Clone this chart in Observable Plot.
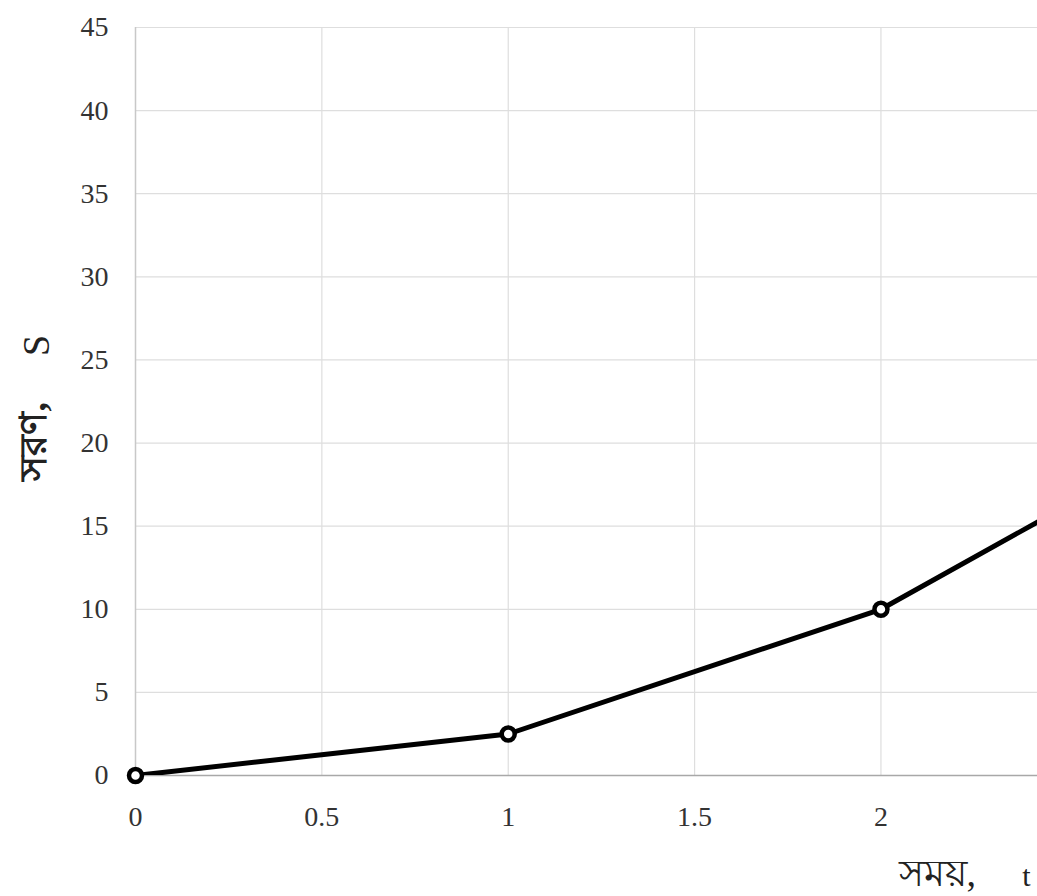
<!DOCTYPE html>
<html><head><meta charset="utf-8">
<script src="https://cdn.jsdelivr.net/npm/d3@7"></script>
<script src="https://cdn.jsdelivr.net/npm/@observablehq/plot@0.6"></script>
<style>body{margin:0;background:#fff;overflow:hidden}</style>
</head><body><div id="chart"></div>
<script>
const times = [0, 1, 2, 3];
const displacement = [0, 2.5, 10, 22.5];
const xTicks = [0, 0.5, 1, 1.5, 2];
const yTicks = [0, 5, 10, 15, 20, 25, 30, 35, 40, 45];
const xLabelWord = "সময়,";
const xLabelSymbol = "t";
const yLabelWord = "সরণ,";
const yLabelSymbol = "S";
const xMax = 2.42;

const data = times.map((t, i) => ({t, s: displacement[i]}));

const chart = Plot.plot({
  width: 1037, height: 896,
  marginLeft: 135, marginRight: 0, marginTop: 27, marginBottom: 121,
  style: {fontFamily: "'Liberation Serif', 'Times New Roman', serif", fontSize: "28px", background: "#fff", color: "#333", overflow: "hidden"},
  x: {domain: [0, xMax]},
  y: {domain: [0, 45]},
  marks: [
    Plot.ruleY(yTicks.slice(1), {stroke: "#dedede", strokeWidth: 1.2}),
    Plot.ruleX(xTicks.slice(1), {stroke: "#dedede", strokeWidth: 1.2}),
    Plot.ruleX([0], {stroke: "#c8c8c8", strokeWidth: 1.5}),
    Plot.ruleY([0], {stroke: "#a8a8a8", strokeWidth: 1.5}),
    Plot.axisX({ticks: xTicks, tickSize: 0, tickPadding: 31, label: null, fontSize: 28, tickFormat: d3.format("~g")}),
    Plot.axisY({ticks: yTicks, tickSize: 0, tickPadding: 27, label: null, fontSize: 28}),
    Plot.line(data, {x: "t", y: "s", stroke: "black", strokeWidth: 5, clip: true}),
    Plot.dot(data.filter(d => d.t <= xMax), {x: "t", y: "s", r: 6.5, fill: "white", stroke: "black", strokeWidth: 4.5}),
    Plot.text([yLabelWord], {text: d => d, frameAnchor: "bottom-left", dx: -90, dy: -295, rotate: -90, textAnchor: "start", fontSize: 38, fontWeight: "bold", fill: "#222"}),
    Plot.text([yLabelSymbol], {text: d => d, frameAnchor: "top-left", dx: -113, dy: 318, rotate: -90, textAnchor: "middle", fontSize: 38, fill: "#222"}),
    Plot.text([xLabelWord], {text: d => d, frameAnchor: "bottom-right", dx: -139, dy: 110, textAnchor: "start", lineAnchor: "bottom", fontSize: 38, fill: "#222"}),
    Plot.text([xLabelSymbol], {text: d => d, frameAnchor: "bottom-right", dx: -11, dy: 110, textAnchor: "middle", lineAnchor: "bottom", fontSize: 30, fill: "#222"})
  ]
});
document.getElementById("chart").append(chart);
</script>
</body></html>
